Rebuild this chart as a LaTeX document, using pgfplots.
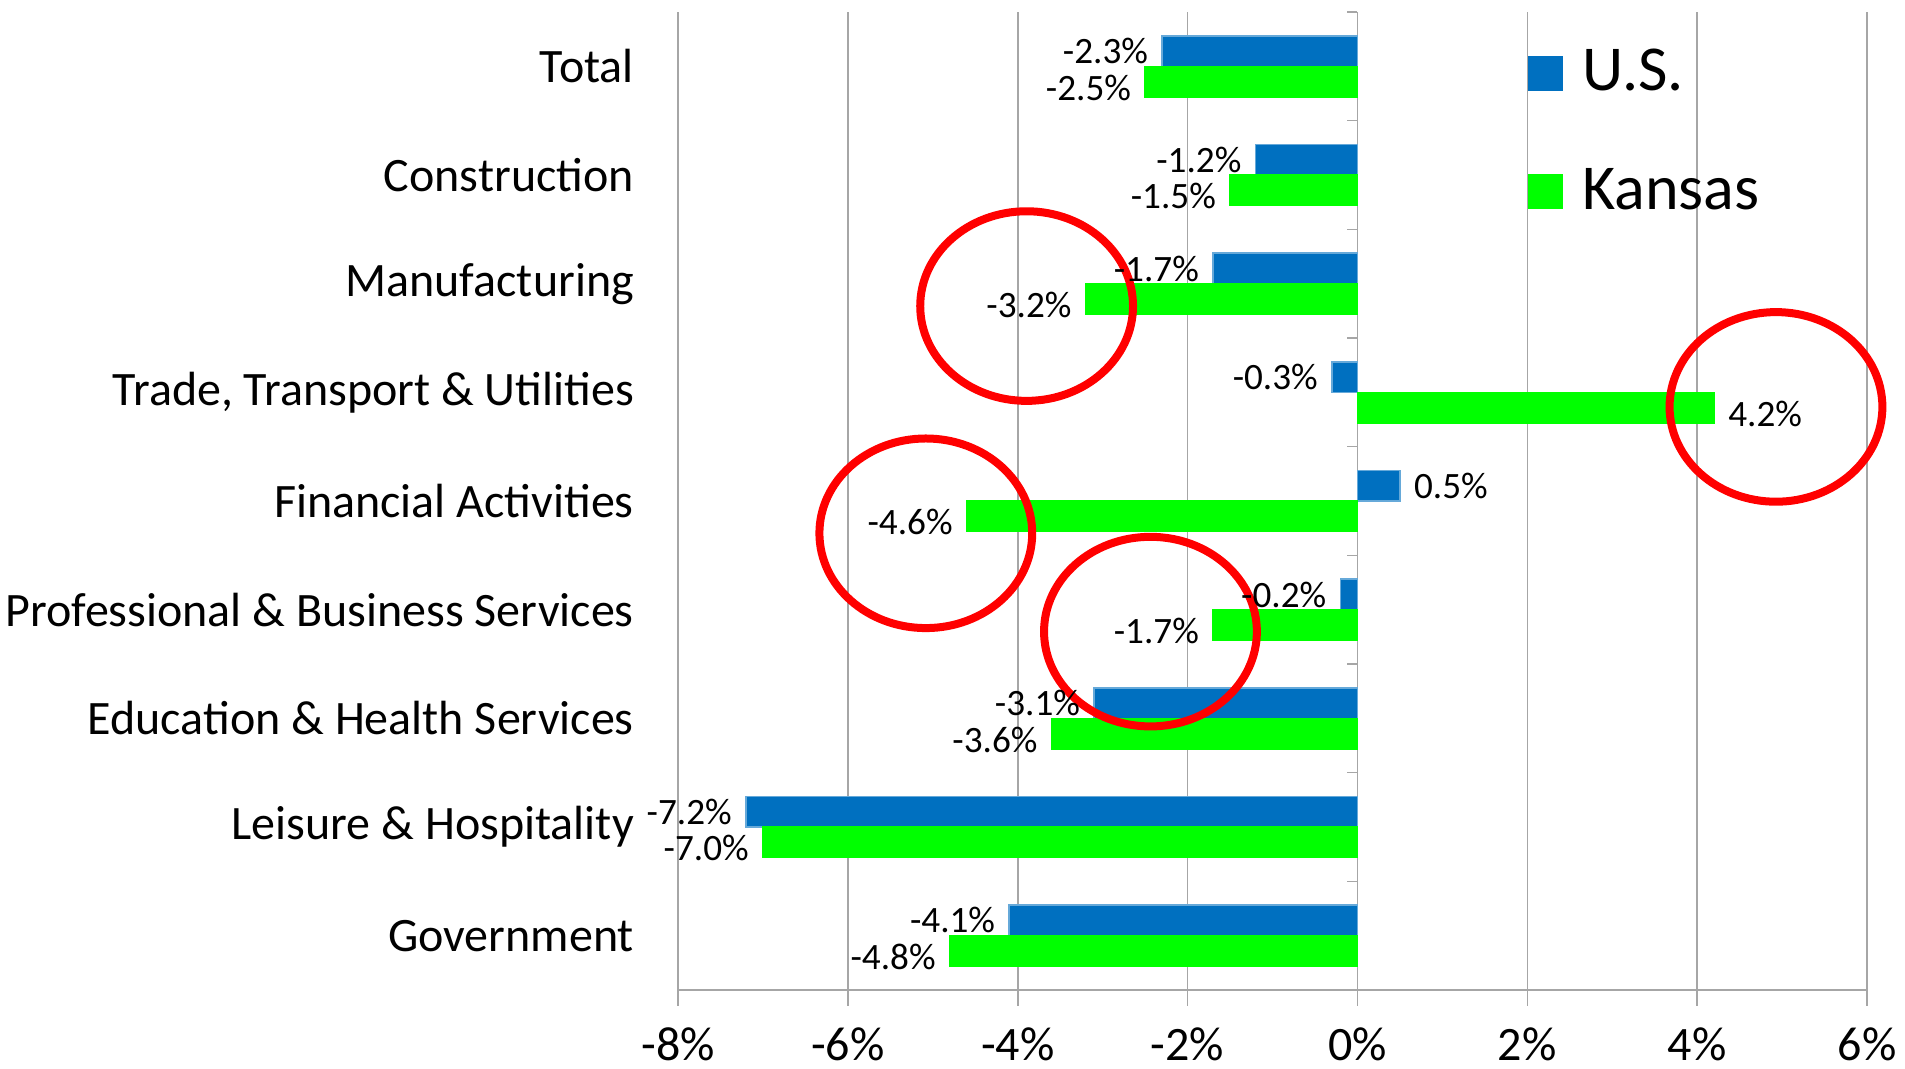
\documentclass[border=0pt]{standalone}
\usepackage{fontspec}
\setmainfont{Carlito}
\usepackage{pgfplots}
\pgfplotsset{compat=1.18}
\definecolor{usblue}{HTML}{0070C0}
\definecolor{ksgreen}{HTML}{00FF00}
\definecolor{gridgray}{HTML}{A6A6A6}
\begin{document}
\begin{tikzpicture}
\path[use as bounding box] (-169.5pt,-19.75pt) rectangle (306.75pt,247.5pt);
\begin{axis}[
  at={(0pt,0pt)}, anchor=south west,
  scale only axis, width=297.25pt, height=244.5pt,
  clip=false,
  xbar, bar width=7.6pt,
  xmin=-8, xmax=6, ymin=-0.5, ymax=8.5,
  xtick={-8,-6,-4,-2,0,2,4,6},
  xticklabel={\pgfmathprintnumber{\tick}\%},
  /pgf/number format/assume math mode=true,
  ytick={0,1,2,3,4,5,6,7,8},
  yticklabels={Government, Leisure \& Hospitality, Education \& Health Services, Professional \& Business Services, Financial Activities, {Trade, Transport \& Utilities}, Manufacturing, Construction, Total},
  axis lines*=left,
  separate axis lines,
  x axis line style={gridgray, line width=0.7pt},
  y axis line style={draw=none},
  tick align=outside,
  major tick length=4pt,
  xtick style={gridgray, line width=0.4pt},
  ytick style={draw=none},
  xmajorgrids,
  grid style={gridgray, line width=0.4pt},
  x tick label style={font=\fontsize{12}{14}\selectfont, yshift=-2pt},
  y tick label style={font=\fontsize{12}{14}\selectfont, xshift=-3.5pt},
  point meta=x,
  nodes near coords={\pgfmathprintnumber[fixed,fixed zerofill,precision=1]{\pgfplotspointmeta}\%},
  every node near coord/.append style={font=\fontsize{9.3}{11}\selectfont, black},
  legend style={draw=none, fill=none, at={(0.714,0.972)}, anchor=north west,
    font=\fontsize{16}{19}\selectfont, row sep=13.2pt, column sep=2.5pt, inner sep=0pt,
    nodes={inner sep=2.3pt}},
  legend cell align=left,
  legend image code/.code={\fill[#1,draw=none] (0pt,-4.4pt) rectangle (8.8pt,4.4pt);},
]
\addplot[fill=usblue, draw=usblue!60!white, bar shift=3.8pt] coordinates {
  (-4.1,0) (-7.2,1) (-3.1,2) (-0.2,3) (0.5,4) (-0.3,5) (-1.7,6) (-1.2,7) (-2.3,8)};
\addlegendentry{U.S.}
\addplot[fill=ksgreen, draw=ksgreen, bar shift=-3.8pt,
  every node near coord/.append style={yshift=-1.5pt}] coordinates {
  (-4.8,0) (-7.0,1) (-3.6,2) (-1.7,3) (-4.6,4) (4.2,5) (-3.2,6) (-1.5,7) (-2.5,8)};
\addlegendentry{Kansas}
\pgfplotsinvokeforeach{-0.5,0.5,1.5,2.5,3.5,4.5,5.5,6.5,7.5,8.5}{
  \draw[gridgray, line width=0.4pt] (axis cs:0,#1) -- ++(-2.7pt,0pt);
}
\draw[red, line width=2pt] (axis cs:-3.895,5.794) ellipse [x radius=26.6pt, y radius=23.7pt];
\draw[red, line width=2pt] (axis cs:4.928,4.866) ellipse [x radius=26.6pt, y radius=23.7pt];
\draw[red, line width=2pt] (axis cs:-5.082,3.703) ellipse [x radius=26.6pt, y radius=23.7pt];
\draw[red, line width=2pt] (axis cs:-2.437,2.798) ellipse [x radius=26.6pt, y radius=23.7pt];
\end{axis}
\end{tikzpicture}
\end{document}
